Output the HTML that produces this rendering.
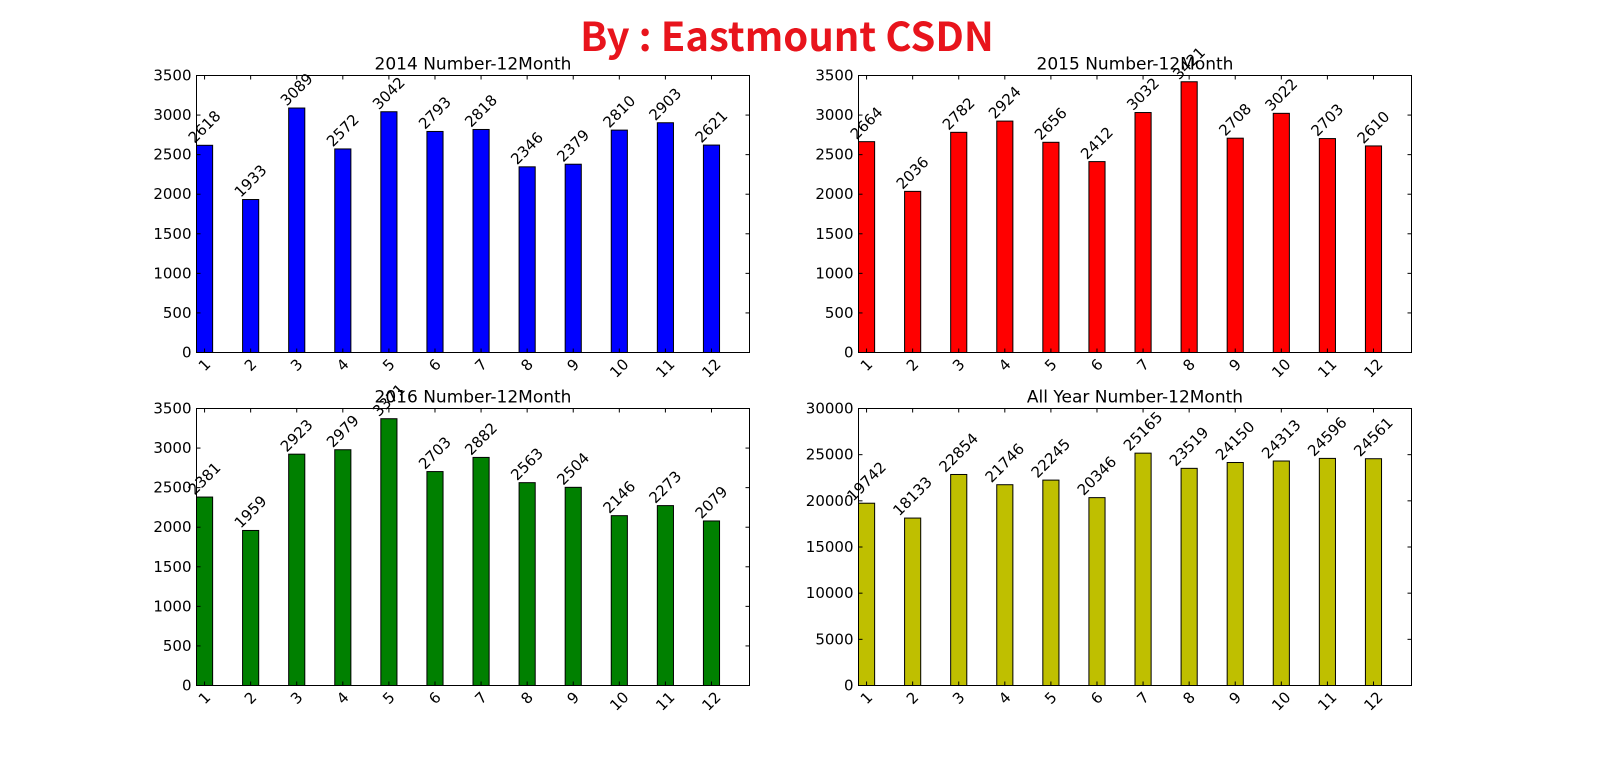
<!DOCTYPE html>
<html><head><meta charset="utf-8"><style>
body{margin:0;background:#fff}
svg{display:block;font-family:"DejaVu Sans","Liberation Sans",sans-serif}
</style></head><body>
<svg id="chart" width="1600" height="778" viewBox="0 0 1600 778">
<text x="787" y="51" text-anchor="middle" font-size="40" font-weight="bold" fill="#e8141c" font-family="'Noto Sans CJK SC','Liberation Sans',sans-serif">By : Eastmount CSDN</text>
</svg>
<script>
const months = ["1","2","3","4","5","6","7","8","9","10","11","12"];
const v2014 = [2618,1933,3089,2572,3042,2793,2818,2346,2379,2810,2903,2621];
const v2015 = [2664,2036,2782,2924,2656,2412,3032,3421,2708,3022,2703,2610];
const v2016 = [2381,1959,2923,2979,3371,2703,2882,2563,2504,2146,2273,2079];
const vAll = [19742,18133,22854,21746,22245,20346,25165,23519,24150,24313,24596,24561];
const ticksSmall = [0,500,1000,1500,2000,2500,3000,3500];
const ticksAll = [0,5000,10000,15000,20000,25000,30000];

const svg=document.getElementById('chart');
const NS='http://www.w3.org/2000/svg';
function mk(tag,attrs,parent){const e=document.createElementNS(NS,tag);for(const k in attrs)e.setAttribute(k,attrs[k]);(parent||svg).appendChild(e);return e;}

function panel(key,x0,y0,w,h,title,vals,yticks,color){
  const g=mk('g',{});
  
  
  const ymax=yticks[yticks.length-1];
  const xs=u=>x0+u*w/12;
  const ys=v=>y0+h-v/ymax*h;
  const t=mk('text',{x:x0+w/2,y:y0-6,'text-anchor':'middle','font-size':17},g);
  t.textContent=title;
  
  
  vals.forEach((v,i)=>{
    const bx=xs(i), bw=xs(i+0.35)-bx, by=ys(v);
    const r=mk('rect',{x:bx,y:by,width:bw,height:y0+h-by,fill:color,stroke:'#000','stroke-width':1},g);
    
    
    const s=String(v), fs=15, tw=s.length*0.62*fs;
    const bb=(tw+fs)*0.707;
    const cx=bx+bw/2, cy=by-bb/2;
    const lt=mk('text',{x:cx,y:cy,'text-anchor':'middle','dominant-baseline':'central','font-size':fs,transform:`rotate(-45 ${cx} ${cy})`},g);
    lt.textContent=s;
    
    
    // x ticks
    mk('line',{x1:cx,x2:cx,y1:y0+h,y2:y0+h-4,stroke:'#000'},g);
    mk('line',{x1:cx,x2:cx,y1:y0,y2:y0+4,stroke:'#000'},g);
    const m=months[i], mw=m.length*0.62*fs, mb=(mw+fs)*0.707;
    const ty=y0+h+4+mb/2;
    const tl=mk('text',{x:cx,y:ty,'text-anchor':'middle','dominant-baseline':'central','font-size':fs,transform:`rotate(-45 ${cx} ${ty})`},g);
    tl.textContent=m;
    
    
  });
  yticks.forEach(v=>{
    const y=ys(v);
    mk('line',{x1:x0,x2:x0+4,y1:y,y2:y,stroke:'#000'},g);
    mk('line',{x1:x0+w,x2:x0+w-4,y1:y,y2:y,stroke:'#000'},g);
    const yl=mk('text',{x:x0-5,y:y+5,'text-anchor':'end','font-size':15},g);
    yl.textContent=v;
    
    
  });
  const f=mk('rect',{x:x0,y:y0,width:w,height:h,fill:'none',stroke:'#000','stroke-width':1},g);
  
  
}
panel('y2014',196.5,75.5,553,277,'2014 Number-12Month',v2014,ticksSmall,'#0000ff');
panel('y2015',858.5,75.5,553,277,'2015 Number-12Month',v2015,ticksSmall,'#ff0000');
panel('y2016',196.5,408.5,553,277,'2016 Number-12Month',v2016,ticksSmall,'#008000');
panel('all',858.5,408.5,553,277,'All Year Number-12Month',vAll,ticksAll,'#bfbf00');
</script>
</body></html>
